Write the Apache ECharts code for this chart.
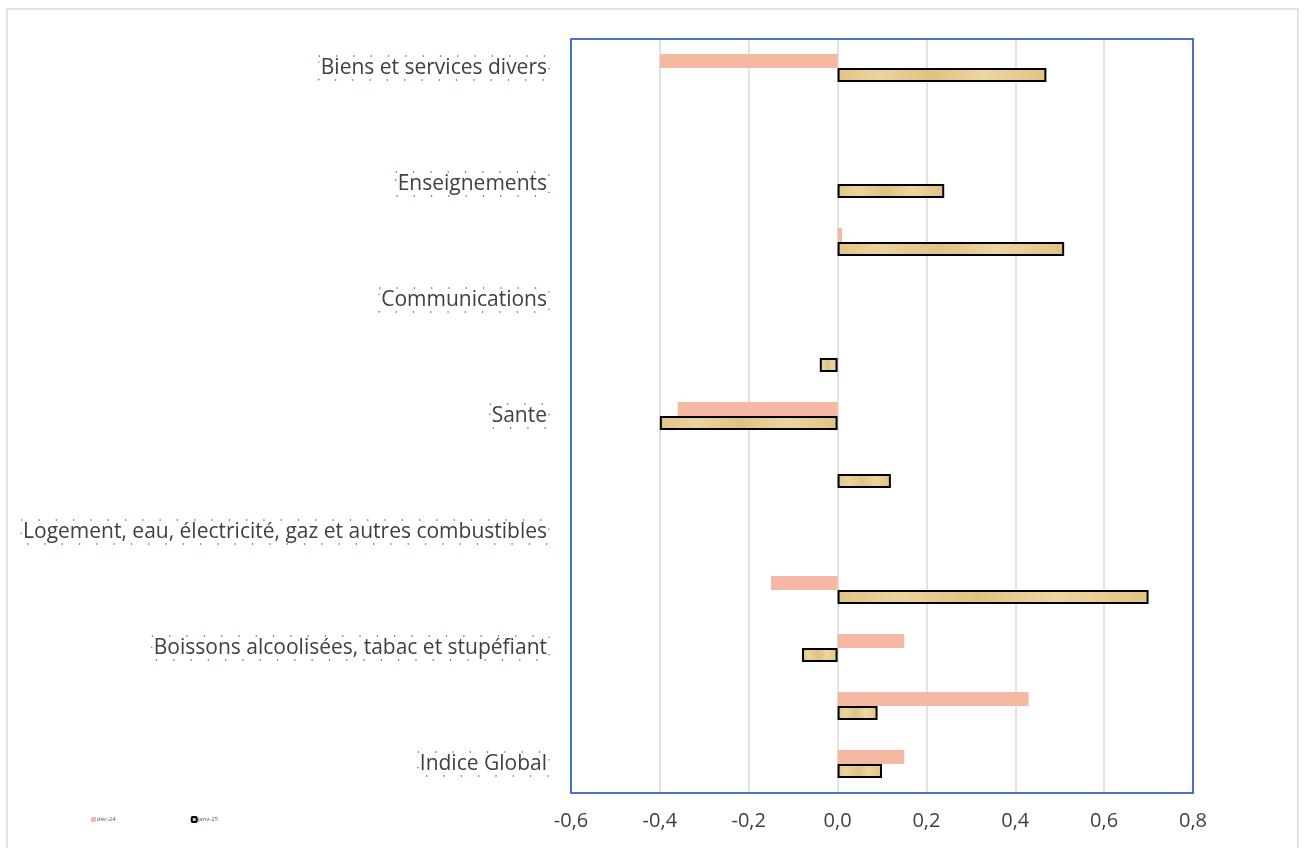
<!DOCTYPE html>
<html><head><meta charset="utf-8">
<script src="https://cdn.jsdelivr.net/npm/echarts@6/dist/echarts.min.js"></script>
<style>html,body{margin:0;padding:0;background:#fff}#c{width:1306px;height:848px}</style>
</head><body><div id="c"></div>
<script>
const categories = [
  "Indice Global",
  "Produits alimentaires et boissons non alcoolisées",
  "Boissons alcoolisées, tabac et stupéfiant",
  "Articles d'habillement et chaussures",
  "Logement, eau, électricité, gaz et autres combustibles",
  "Meubles, articles de ménage et entretien courant du foyer",
  "Sante",
  "Transport",
  "Communications",
  "Loisirs et culture",
  "Enseignements",
  "Restaurants et hôtels",
  "Biens et services divers"
];
const dec24 = [0.15, 0.43, 0.15, -0.15, 0.0, 0.0, -0.36, 0.0, 0.0, 0.01, 0.0, 0.0, -0.40];
const janv25 = [0.10, 0.09, -0.08, 0.70, 0.0, 0.12, -0.40, -0.04, 0.0, 0.51, 0.24, 0.0, 0.47];
const seriesNames = ["déc-24", "janv-25"];
const xTicks = {min: -0.6, max: 0.8, interval: 0.2};

const chart = echarts.init(document.getElementById('c'));
const tan = new echarts.graphic.LinearGradient(0, 0, 1, 0, [
  {offset: 0, color: '#E2C487'}, {offset: 0.2, color: '#EBD39E'},
  {offset: 0.45, color: '#DFC283'}, {offset: 0.7, color: '#EDD5A2'}, {offset: 1, color: '#E0C385'}
]);
const janvData = janv25.map(v => v === 0 ? {value: v, itemStyle: {borderWidth: 0}} : v);
const G = {left: 571, right: 113, top: 39, bottom: 55};
chart.setOption({
  animation: false,
  textStyle: {fontFamily: 'Open Sans'},
  grid: {left: G.left, right: G.right, top: G.top, bottom: G.bottom, show: false},
  legend: {
    left: 86, top: 811, itemWidth: 5, itemHeight: 5, itemGap: 75,
    textStyle: {fontSize: 6, color: '#595959', padding: [0, 0, 0, -4]},
    data: seriesNames
  },
  xAxis: {
    type: 'value', min: xTicks.min, max: xTicks.max, interval: xTicks.interval,
    axisLine: {show: false}, axisTick: {show: false},
    splitLine: {lineStyle: {color: '#D9D9D9', width: 1.5}},
    axisLabel: {fontSize: 20, color: '#404040', margin: 18,
      formatter: v => v.toFixed(1).replace('.', ',').replace('-0,0', '0,0')}
  },
  yAxis: {
    type: 'category', data: categories,
    axisLine: {show: false}, axisTick: {show: false},
    axisLabel: {
      interval: 1, fontSize: 21, color: '#404040', margin: 22,
      borderColor: '#4472C4', borderWidth: 1.3, borderType: [1.3, 16], padding: [2, 2, 1, 2]
    }
  },
  series: [
    {name: seriesNames[0], type: 'bar', data: dec24, barWidth: 14, barGap: '0%',
      itemStyle: {color: '#F4B8A3'}},
    {name: seriesNames[1], type: 'bar', data: janvData, barWidth: 14,
      itemStyle: {color: tan, borderColor: '#000', borderWidth: 2}}
  ],
  graphic: [
    {type: 'rect', shape: {x: 7, y: 9, width: 1291, height: 860}, style: {fill: 'none', stroke: '#D9D9D9', lineWidth: 1.5}, z: -1},
    {type: 'rect', shape: {x: G.left, y: G.top, width: 1306 - G.left - G.right, height: 848 - G.top - G.bottom}, style: {fill: 'none', stroke: '#4472C4', lineWidth: 2}, z: 100, silent: true}
  ]
});
</script></body></html>
